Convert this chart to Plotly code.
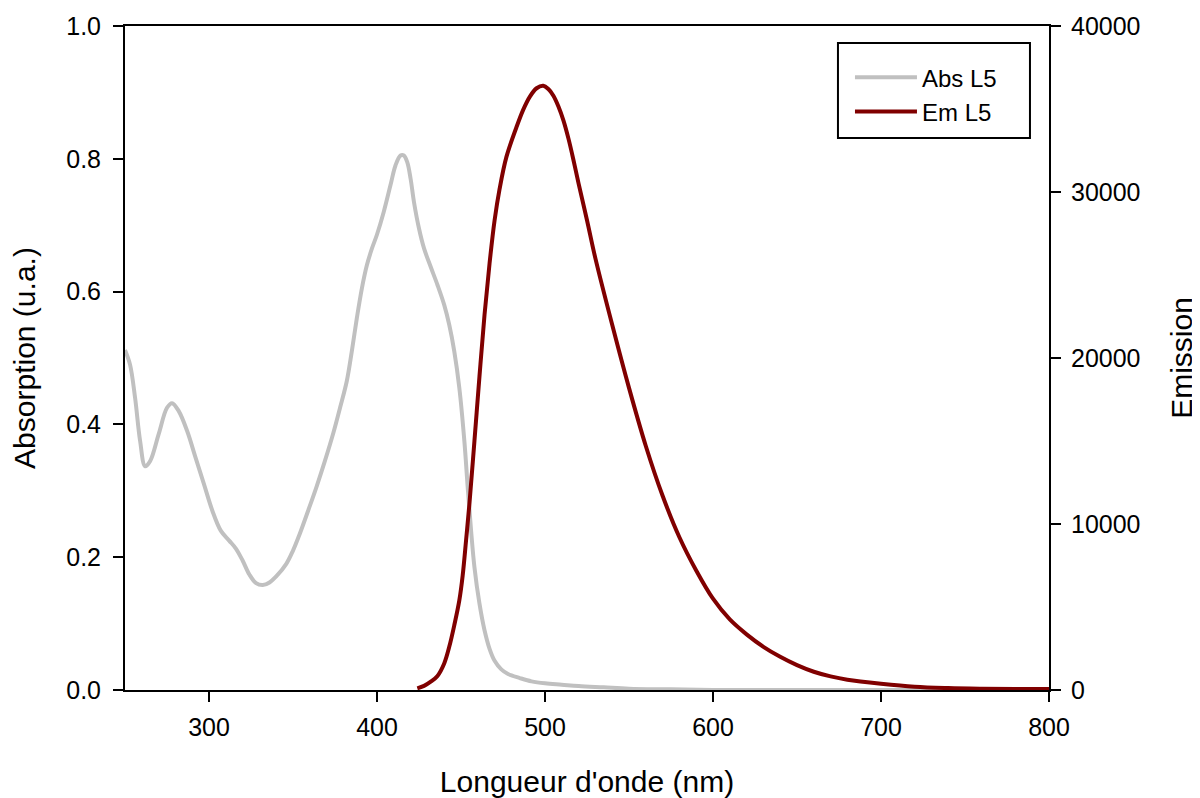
import plotly.graph_objects as go

# Absorption spectrum (left axis, u.a.)
abs_nm = [250, 253, 256, 259, 262, 265, 270, 275, 278, 282, 287, 292, 297, 302, 307,
          312, 316, 320, 324, 328, 332, 336, 340, 346, 350, 354, 359, 364, 369, 374,
          378, 382, 385, 388, 391, 394, 397, 400, 404, 408, 411, 414, 416, 418, 420,
          422, 425, 428, 432, 436, 440, 443, 446, 449, 452, 454, 456, 458, 461, 464,
          467, 470, 474, 478, 485, 492, 500, 510, 520, 535, 550, 575, 600, 650, 700,
          750, 800]
abs_val = [0.512, 0.49, 0.44, 0.375, 0.337, 0.345, 0.385, 0.425, 0.432, 0.42, 0.39,
           0.35, 0.31, 0.27, 0.24, 0.225, 0.213, 0.195, 0.174, 0.161, 0.158, 0.162,
           0.171, 0.19, 0.21, 0.235, 0.27, 0.306, 0.345, 0.387, 0.425, 0.465, 0.51,
           0.56, 0.605, 0.64, 0.665, 0.686, 0.72, 0.76, 0.79, 0.805, 0.805, 0.795,
           0.77, 0.735, 0.695, 0.665, 0.637, 0.61, 0.58, 0.55, 0.51, 0.455, 0.375,
           0.305, 0.24, 0.185, 0.13, 0.09, 0.062, 0.044, 0.031, 0.024, 0.018, 0.013,
           0.01, 0.008, 0.006, 0.004, 0.002, 0.001, 0.0, 0.0, 0.0, 0.0, 0.0]

# Emission spectrum (right axis)
em_nm = [424, 428, 432, 436, 440, 443, 446, 449, 451, 453, 455, 458, 461, 464, 467,
         470, 473, 477, 483, 487, 491, 495, 499, 502, 505, 508, 511, 514, 517, 520,
         525, 530, 540, 550, 560, 570, 580, 590, 600, 610, 620, 630, 640, 650, 660,
         670, 680, 700, 720, 740, 760, 780, 800]
em_val = [100, 250, 500, 850, 1600, 2600, 3900, 5400, 6900, 9000, 11200, 15000,
          18900, 22600, 25700, 28300, 30200, 32100, 33900, 34950, 35750, 36250,
          36400, 36200, 35800, 35150, 34300, 33200, 31900, 30500, 28300, 26000,
          22000, 18200, 14700, 11700, 9200, 7200, 5500, 4250, 3350, 2600, 2000,
          1500, 1100, 820, 620, 380, 200, 120, 80, 60, 60]

font = "Liberation Sans, Arial, sans-serif"

fig = go.Figure()
fig.add_trace(go.Scatter(x=abs_nm, y=abs_val, name="Abs L5", mode="lines",
                         line=dict(color="#c0c0c0", width=4, shape="spline", smoothing=1.0)))
fig.add_trace(go.Scatter(x=em_nm, y=em_val, name="Em L5", mode="lines", yaxis="y2",
                         line=dict(color="#800000", width=4, shape="spline", smoothing=1.0)))

axis_style = dict(showgrid=False, zeroline=False, showline=True, linecolor="black",
                  linewidth=2, ticks="outside", ticklen=10, tickwidth=2, tickcolor="black",
                  automargin=False,
                  tickfont=dict(size=25, color="black", family=font))

# legend frame
fig.add_shape(type="rect", xref="paper", yref="paper",
              x0=0.7716, x1=0.9794, y0=0.8313, y1=0.9744,
              line=dict(color="black", width=2), fillcolor="white", layer="above")

# page body adds an 8 px margin, so the figure is 8 px smaller on each side
fig.update_layout(
    width=1192, height=790,
    paper_bgcolor="white", plot_bgcolor="white",
    margin=dict(l=117, r=151, t=18, b=108),
    font=dict(family=font, color="black"),
    xaxis=dict(range=[250, 800], tick0=300, dtick=100, mirror=True, ticklabelstandoff=4,
               title=dict(text="Longueur d'onde (nm)", font=dict(size=30), standoff=34),
               **axis_style),
    yaxis=dict(range=[0, 1.0], dtick=0.2, tickformat=".1f", ticklabelstandoff=7,
               title=dict(text="Absorption (u.a.)", font=dict(size=30), standoff=23),
               **axis_style),
    yaxis2=dict(range=[0, 40000], dtick=10000, tickformat="d", overlaying="y", side="right",
                ticklabelstandoff=5,
                title=dict(text="Emission", font=dict(size=30), standoff=31),
                **axis_style),
    legend=dict(x=0.7846, y=0.956, xanchor="left", yanchor="top",
                bgcolor="rgba(0,0,0,0)", borderwidth=0,
                font=dict(size=24, color="black", family=font),
                itemwidth=62, tracegroupgap=0),
)

fig.write_html("out.html")
